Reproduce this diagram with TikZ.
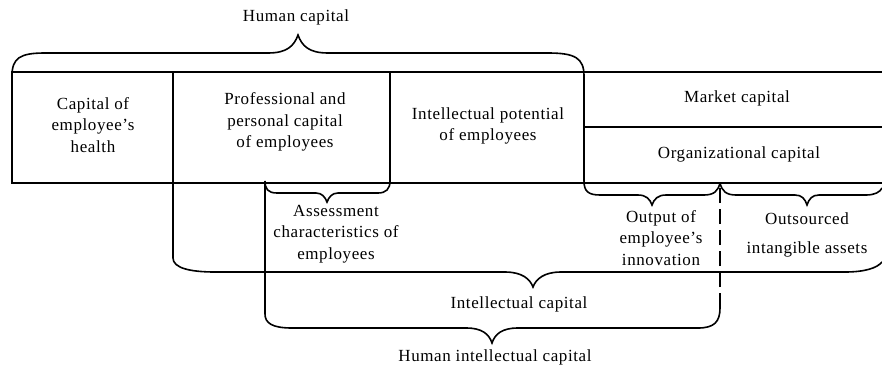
\documentclass[tikz,border=0pt]{standalone}
\usepackage{fontspec}
\setmainfont{Liberation Serif}[LetterSpace=3.5]
\begin{document}
\begin{tikzpicture}[x=1pt,y=-1pt,line width=1.6pt,
  lbl/.style={align=center,font=\fontsize{17}{21.5}\selectfont,inner sep=0pt},
  dsh/.style={dash pattern=on 15pt off 6pt}]
\useasboundingbox (0,0) rectangle (882,372);
% main box
\draw (882,72) -- (12,72) -- (12,183) -- (882,183);
\draw (584,127) -- (882,127);
% Human capital brace + right arm + output brace
\draw (12,76) .. controls (12,58) and (20,53) .. (45,53) -- (268,53)
  .. controls (287,53) and (294,46) .. (298,35)
  .. controls (302,46) and (309,53) .. (328,53) -- (548,53)
  .. controls (575,53) and (584,58) .. (584,76) -- (584,181)
  .. controls (584,191) and (588,195) .. (600,195) -- (638,195)
  .. controls (646,195) and (650,199) .. (652,205)
  .. controls (654,199) and (658,195) .. (666,195) -- (704,195)
  .. controls (714,195) and (718,191) .. (720,183);
% outsourced brace
\draw (720,183) .. controls (722,191) and (726,195) .. (736,195) -- (795,195)
  .. controls (802,195) and (805,199) .. (807,205)
  .. controls (809,199) and (812,195) .. (819,195) -- (866,195)
  .. controls (875,195) and (880,192) .. (882,188);
% assessment brace + human intellectual capital brace
\draw (390,72) -- (390,181) .. controls (390,189) and (386,193) .. (378,193) -- (338,193)
  .. controls (332,193) and (329,197) .. (327,202)
  .. controls (325,197) and (322,193) .. (316,193) -- (277,193)
  .. controls (268,193) and (265,189) .. (265,181) -- (265,314)
  .. controls (265,323) and (272,328) .. (292,328) -- (466,328)
  .. controls (482,328) and (489,334) .. (492,343)
  .. controls (495,334) and (502,328) .. (518,328) -- (698,328)
  .. controls (714,328) and (720,322) .. (720,308);
\draw[dsh] (720,308) -- (720,183);
% intellectual capital brace
\draw (173,72) -- (173,258) .. controls (173,268) and (190,272) .. (215,272) -- (505,272)
  .. controls (522,272) and (530,279) .. (533,287)
  .. controls (536,279) and (544,272) .. (561,272) -- (845,272)
  .. controls (865,272) and (877,268) .. (882,262);
% labels
\node[lbl] (hc) at (296,17) {Human capital};
\node[lbl] (health) at (93,125) {Capital of\\employee’s\\health};
\node[lbl] (prof) at (285,122) {Professional and\\personal capital\\of employees};
\node[lbl] (pot) at (488,126) {Intellectual potential\\of employees};
\node[lbl] (mkt) at (737,98) {Market capital};
\node[lbl] (org) at (739,154) {Organizational capital};
\node[lbl] (assess) at (336,234) {Assessment\\characteristics of\\employees};
\node[lbl] (output) at (661,238) {Output of\\employee’s\\innovation};
\node[lbl] (outs) at (807,235) {Outsourced\\[7pt]intangible assets};
\node[lbl] (ic) at (519,304) {Intellectual capital};
\node[lbl] (hic) at (495,357) {Human intellectual capital};
\end{tikzpicture}
\end{document}
